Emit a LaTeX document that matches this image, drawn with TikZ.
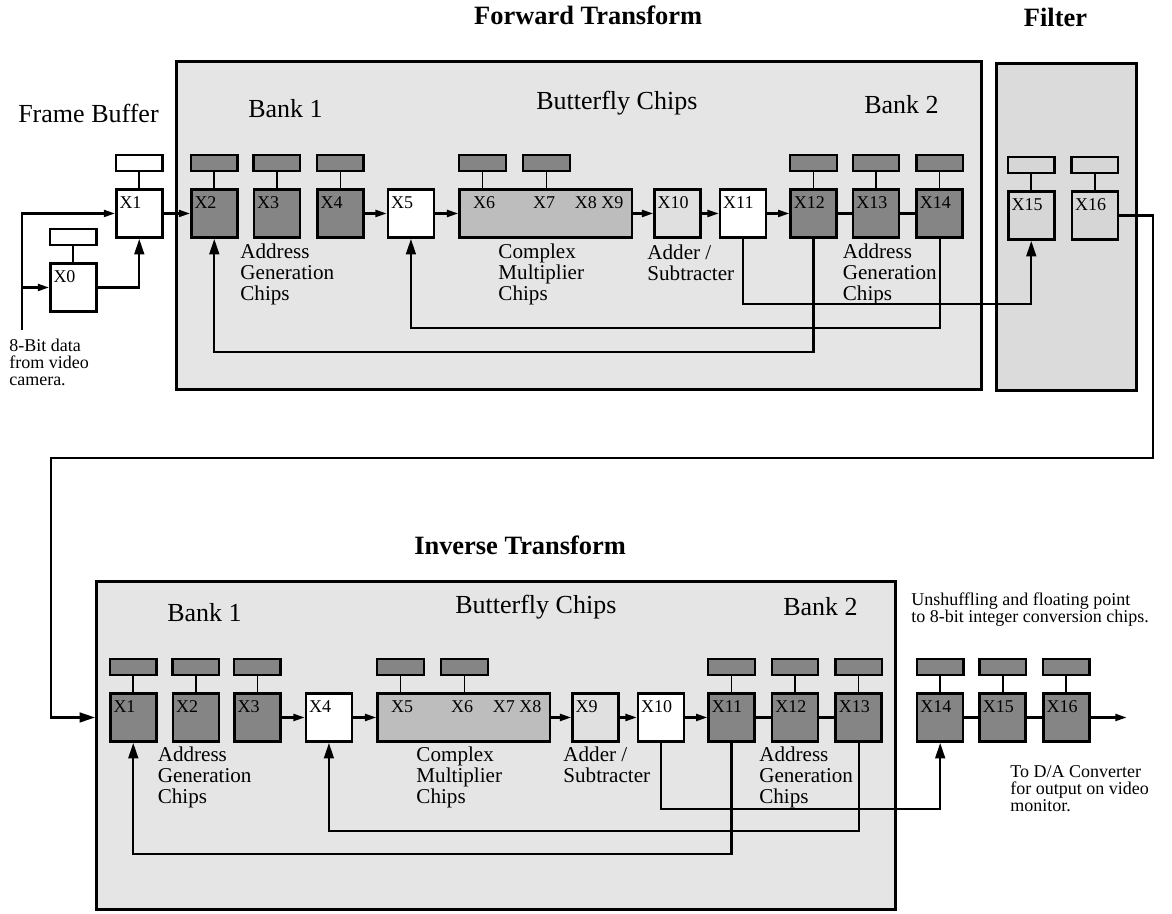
\documentclass[tikz,border=0pt]{standalone}
\usepackage{fontspec}
\setmainfont{Liberation Serif}
\usetikzlibrary{arrows.meta,positioning,calc}
\definecolor{fhBoxBg}{gray}{0.90}
\definecolor{fhFilterBg}{gray}{0.86}
\definecolor{fhBank}{gray}{0.52}
\definecolor{fhMult}{gray}{0.74}
\definecolor{fhAdd}{gray}{0.88}
\definecolor{fhFilt}{gray}{0.84}
\tikzset{
  % Stage frames (forward, filter, inverse)
  stage/.style={rectangle,draw,line width=2pt,fill=fhBoxBg,
    inner sep=0pt,anchor=north west},
  % Chip, label in the top left corner
  chip/.style={rectangle,draw,line width=1.8pt,inner sep=0pt,
    minimum width=1.15cm,minimum height=1.21cm,
    label={[clbl]north west:#1}},
  bankchip/.style={chip=#1,fill=fhBank},
  plainchip/.style={chip=#1,fill=white},
  addchip/.style={chip=#1,fill=fhAdd},
  filtchip/.style={chip=#1,fill=fhFilt},
  % Complex multiplier block
  multblock/.style={rectangle,draw,line width=1.8pt,inner sep=0pt,
    minimum width=4.31cm,minimum height=1.21cm,fill=fhMult,
    label={[clbl,xshift=7.5pt]north west:#1}},
  % Memory above a chip
  mem/.style={rectangle,draw,line width=1.6pt,inner sep=0pt,
    minimum width=1.16cm,minimum height=0.39cm,fill=fhBank},
  % Texts
  clbl/.style={anchor=north west,inner sep=0pt,xshift=3pt,yshift=-6pt,
    font=\fontsize{12.8}{14}\selectfont},
  title/.style={font=\fontsize{18.8}{22}\selectfont\bfseries,inner sep=0pt},
  head/.style={font=\fontsize{18.5}{22}\selectfont,inner sep=0pt},
  grp/.style={font=\fontsize{15}{15}\selectfont,align=left,
    inner sep=0pt,anchor=north west},
  note/.style={font=\fontsize{12.8}{12.1}\selectfont,align=left,
    inner sep=0pt,anchor=north west},
  % Wires and arrows
  wire/.style={line width=1.5pt},
  stem/.style={line width=1.2pt},
  arr/.style={-{Triangle[length=8pt,width=5pt]},line width=1.5pt},
  uparr/.style={-{Triangle[length=11pt,width=7pt]},line width=1.5pt},
}
\begin{document}
\begin{tikzpicture}[x=0.025cm,y=-0.025cm]
  \useasboundingbox (0,0) rectangle (1172,914);

  % Stage frames
  \node[stage,minimum width=20.13cm,minimum height=8.205cm] (fwd) at (175,60) {};
  \node[stage,fill=fhFilterBg,minimum width=3.505cm,minimum height=8.18cm] (filt) at (995,62) {};
  \node[stage,minimum width=19.98cm,minimum height=8.205cm] (inv) at (95,580) {};

  \node[title,above=0.875cm of fwd.north,xshift=0.225cm] (tfwd) {Forward Transform};
  \node[title,above=0.875cm of filt.north,xshift=-0.275cm] (tfilt) {Filter};
  \node[title,above=0.625cm of inv.north,xshift=0.6cm] (tinv) {Inverse Transform};

  % Frame buffer
  \node[head,anchor=base west] (tfb) at (18,122) {Frame Buffer};
  \node[plainchip=X1,anchor=north west] (fX1) at (115,188) {};
  \node[mem,fill=white,above=0.4cm of fX1] (mfX1) {};
  \node[plainchip=X0,anchor=north west] (fX0) at (49,262) {};
  \node[mem,fill=white,above=0.4cm of fX0] (mfX0) {};
  \draw[stem] (mfX1) -- (fX1);
  \draw[stem] (mfX0) -- (fX0);
  \node[note] (tcam) at (9,339) {8-Bit data\\from video\\camera.};
  \coordinate (cam) at (22,330);
  \draw[arr] (cam) |- (fX1.west);
  \draw[arr] (cam |- fX0.west) -- (fX0.west);
  \draw[uparr] (fX0.east) -| (fX1.south);

  % Forward transform chips
  \node[head,anchor=base west] (tb1) at (248,117) {Bank 1};
  \node[head,anchor=base west] (tbf) at (536,109) {Butterfly Chips};
  \node[head,anchor=base west] (tb2) at (864,113) {Bank 2};
  \node[bankchip=X2,anchor=north west] (X2) at (190,188) {};
  \node[bankchip=X3,right=0.35cm of X2] (X3) {};
  \node[bankchip=X4,right=0.375cm of X3] (X4) {};
  \node[plainchip=X5,right=0.55cm of X4] (X5) {};
  \node[multblock={X6\hspace{27pt}X7\hspace{14pt}X8 X9},right=0.575cm of X5] (mult) {};
  \node[addchip=X10,right=0.5cm of mult] (X10) {};
  \node[plainchip=X11,right=0.425cm of X10] (X11) {};
  \node[bankchip=X12,right=0.55cm of X11] (X12) {};
  \node[bankchip=X13,right=0.35cm of X12] (X13) {};
  \node[bankchip=X14,right=0.375cm of X13] (X14) {};

  \node[mem,above=0.4cm of X2] (m2) {};
  \node[mem,above=0.4cm of X3] (m3) {};
  \node[mem,above=0.4cm of X4] (m4) {};
  \node[mem,above right=0.4cm and 0cm of mult.north west] (m6) {};
  \node[mem,above right=0.4cm and 1.6cm of mult.north west] (m7) {};
  \node[mem,above=0.4cm of X12] (m12) {};
  \node[mem,above=0.4cm of X13] (m13) {};
  \node[mem,above=0.4cm of X14] (m14) {};
  \draw[stem] (m2) -- (X2);
  \draw[stem] (m3) -- (X3);
  \draw[stem] (m4) -- (X4);
  \draw[stem] (m6) -- (m6 |- mult.north);
  \draw[stem] (m7) -- (m7 |- mult.north);
  \draw[stem] (m12) -- (X12);
  \draw[stem] (m13) -- (X13);
  \draw[stem] (m14) -- (X14);

  \node[grp,below right=0.11cm and 0.04cm of X2.south east] (tag1) {Address\\Generation\\Chips};
  \node[grp,below right=0.11cm and 1cm of mult.south west] (tcm1) {Complex\\Multiplier\\Chips};
  \node[grp,below right=0.13cm and -0.15cm of X10.south west] (tas1) {Adder /\\Subtracter};
  \node[grp,below right=0.11cm and 0.12cm of X12.south east] (tag2) {Address\\Generation\\Chips};

  \draw[arr] (fX1) -- (X2);
  \draw[arr] (X4) -- (X5);
  \draw[arr] (X5) -- (mult);
  \draw[arr] (mult) -- (X10);
  \draw[arr] (X10) -- (X11);
  \draw[arr] (X11) -- (X12);
  \draw[wire] (X12) -- (X13);
  \draw[wire] (X13) -- (X14);
  \draw[uparr] (X12.south) -- ++(0,113) -| (X2.south);
  \draw[uparr] (X14.south) -- ++(0,89) -| (X5.south);

  % Filter
  \node[filtchip=X15,anchor=north west] (X15) at (1007,190) {};
  \node[filtchip=X16,right=0.375cm of X15] (X16) {};
  \node[mem,fill=fhFilt,above=0.4cm of X15] (m15) {};
  \node[mem,fill=fhFilt,above=0.4cm of X16] (m16) {};
  \draw[stem] (m15) -- (X15);
  \draw[stem] (m16) -- (X16);
  \draw[uparr] (X11.south) -- ++(0,65) -| (X15.south);

  % Inverse transform chips
  \node[head,anchor=base west] (ib1) at (167,621) {Bank 1};
  \node[head,anchor=base west] (ibf) at (455,613) {Butterfly Chips};
  \node[head,anchor=base west] (ib2) at (783,615) {Bank 2};
  \node[bankchip=X1,anchor=north west] (iX1) at (109,692) {};
  \node[bankchip=X2,right=0.35cm of iX1] (iX2) {};
  \node[bankchip=X3,right=0.325cm of iX2] (iX3) {};
  \node[plainchip=X4,right=0.575cm of iX3] (iX4) {};
  \node[multblock={X5\hspace{27pt}X6\hspace{14pt}X7 X8},right=0.575cm of iX4] (imult) {};
  \node[addchip=X9,right=0.5cm of imult] (iX9) {};
  \node[plainchip=X10,right=0.425cm of iX9] (iX10) {};
  \node[bankchip=X11,right=0.55cm of iX10] (iX11) {};
  \node[bankchip=X12,right=0.375cm of iX11] (iX12) {};
  \node[bankchip=X13,right=0.375cm of iX12] (iX13) {};
  \node[bankchip=X14,right=0.825cm of iX13] (iX14) {};
  \node[bankchip=X15,right=0.35cm of iX14] (iX15) {};
  \node[bankchip=X16,right=0.375cm of iX15] (iX16) {};

  % Filter output down to the inverse transform
  \draw[uparr] (X16.east) -| (1153,458) -| ($(inv.west |- iX1)+(-44,0)$) -- (inv.west |- iX1);

  \node[mem,above=0.4cm of iX1] (im1) {};
  \node[mem,above=0.4cm of iX2] (im2) {};
  \node[mem,above=0.4cm of iX3] (im3) {};
  \node[mem,above right=0.4cm and 0cm of imult.north west] (im5) {};
  \node[mem,above right=0.4cm and 1.6cm of imult.north west] (im6) {};
  \node[mem,above=0.4cm of iX11] (im11) {};
  \node[mem,above=0.4cm of iX12] (im12) {};
  \node[mem,above=0.4cm of iX13] (im13) {};
  \node[mem,above=0.4cm of iX14] (im14) {};
  \node[mem,above=0.4cm of iX15] (im15) {};
  \node[mem,above=0.4cm of iX16] (im16) {};
  \draw[stem] (im1) -- (iX1);
  \draw[stem] (im2) -- (iX2);
  \draw[stem] (im3) -- (iX3);
  \draw[stem] (im5) -- (im5 |- imult.north);
  \draw[stem] (im6) -- (im6 |- imult.north);
  \draw[stem] (im11) -- (iX11);
  \draw[stem] (im12) -- (iX12);
  \draw[stem] (im13) -- (iX13);
  \draw[stem] (im14) -- (iX14);
  \draw[stem] (im15) -- (iX15);
  \draw[stem] (im16) -- (iX16);

  \node[grp,below right=0.08cm and 0cm of iX1.south east] (itag1) {Address\\Generation\\Chips};
  \node[grp,below right=0.08cm and 1cm of imult.south west] (itcm) {Complex\\Multiplier\\Chips};
  \node[grp,below right=0.1cm and -0.2cm of iX9.south west] (itas) {Adder /\\Subtracter};
  \node[grp,below right=0.08cm and 0.08cm of iX11.south east] (itag2) {Address\\Generation\\Chips};
  \node[note] (tun) at (911,593) {Unshuffling and floating point\\to 8-bit integer conversion chips.};
  \node[note] (tda) at (1010,765) {To D/A Converter\\for output on video\\monitor.};

  \draw[arr] (iX3) -- (iX4);
  \draw[arr] (iX4) -- (imult);
  \draw[arr] (imult) -- (iX9);
  \draw[arr] (iX9) -- (iX10);
  \draw[arr] (iX10) -- (iX11);
  \draw[wire] (iX11) -- (iX12);
  \draw[wire] (iX12) -- (iX13);
  \draw[wire] (iX14) -- (iX15);
  \draw[wire] (iX15) -- (iX16);
  \coordinate[right=0.9cm of iX16.east] (dac);
  \draw[arr] (iX16) -- (dac);
  \draw[uparr] (iX11.south) -- ++(0,111) -| (iX1.south);
  \draw[uparr] (iX13.south) -- ++(0,88) -| (iX4.south);
  \draw[uparr] (iX10.south) -- ++(0,66) -| (iX14.south);
\end{tikzpicture}
\end{document}
